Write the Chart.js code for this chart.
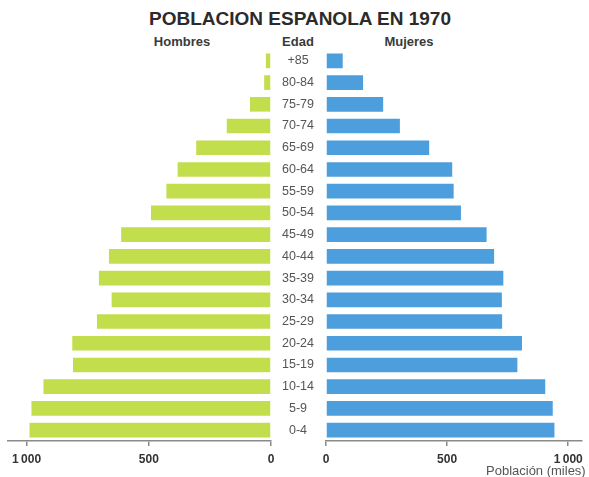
<!DOCTYPE html>
<html>
<head>
<meta charset="utf-8">
<title>Poblacion espanola en 1970</title>
<script src="https://cdn.jsdelivr.net/npm/chart.js@4.4.1/dist/chart.umd.min.js"></script>
<style>
  body { margin: 0; background: #fff; font-family: "Liberation Sans", Arial, sans-serif; }
  #page { position: relative; width: 589px; height: 477px; overflow: hidden; background: #fff; }
  .txt { position: absolute; white-space: nowrap; transform: translateX(-50%); }
  #titulo { left: 300px; top: 8px; font-size: 19px; font-weight: bold; color: #2b2b2b; line-height: 22px; }
  .cab { top: 34px; font-size: 13px; font-weight: bold; color: #3a3a3a; line-height: 16px; }
  #pie { position: absolute; left: 486px; top: 463px; font-size: 13px; color: #555; line-height: 15px; white-space: nowrap; }
  canvas { position: absolute; top: 0; }
</style>
</head>
<body>
<div id="page">
  <div id="titulo" class="txt">POBLACION ESPANOLA EN 1970</div>
  <div class="txt cab" style="left:182px">Hombres</div>
  <div class="txt cab" style="left:298px">Edad</div>
  <div class="txt cab" style="left:409px">Mujeres</div>
  <canvas id="hombresChart" width="290" height="477" style="left:0"></canvas>
  <canvas id="mujeresChart" width="317" height="477" style="left:272px"></canvas>
  <div id="pie">Población (miles)</div>
</div>
<script>
// grupos de edad, de arriba abajo
const edades = ['+85', '80-84', '75-79', '70-74', '65-69', '60-64', '55-59', '50-54', '45-49',
  '40-44', '35-39', '30-34', '25-29', '20-24', '15-19', '10-14', '5-9', '0-4'];
// miles de personas
const hombres = [21, 28, 86, 181, 306, 382, 428, 491, 613, 663, 704, 652, 712, 813, 810, 931, 980, 988];
const mujeres = [69, 153, 236, 305, 426, 521, 527, 557, 663, 694, 732, 726, 727, 809, 790, 905, 936, 943];
const ticksX = [0, 500, 1000];

const verde = '#c2de4c';
const azul = '#4d9edd';

function fmtMiles(v) {
  return v >= 1000 ? String(v).replace(/(\d)(\d{3})$/, '$1\u2009$2') : String(v);
}

function ejeX(max, reverse) {
  return {
    type: 'linear',
    min: 0,
    max: max,
    reverse: reverse,
    afterBuildTicks: s => { s.ticks = ticksX.map(v => ({ value: v })); },
    afterFit: s => { s.height = 36; },
    grid: { drawOnChartArea: false, drawTicks: true, tickLength: 5, color: '#8a8a8a', lineWidth: 1.5 },
    border: { display: true, color: '#8a8a8a', width: 1.5 },
    ticks: {
      color: '#333',
      padding: 6,
      maxRotation: 0,
      font: { family: '"Liberation Sans", Arial, sans-serif', size: 12, weight: 'bold' },
      callback: v => fmtMiles(v)
    }
  };
}

const barra = {
  barPercentage: 0.9,
  categoryPercentage: 0.75,
  borderWidth: 0
};

// piramide: lado izquierdo (hombres)
const hombresChart = new Chart(document.getElementById('hombresChart'), {
  type: 'bar',
  data: {
    labels: edades,
    datasets: [Object.assign({ label: 'Hombres', data: hombres, backgroundColor: verde }, barra)]
  },
  options: {
    indexAxis: 'y',
    responsive: false,
    animation: false,
    layout: { autoPadding: false, padding: { left: 8, right: 19, top: 50, bottom: 0 } },
    plugins: { legend: { display: false }, tooltip: { enabled: false } },
    scales: {
      x: ejeX(1076, true),
      y: { display: false }
    }
  }
});

// lado derecho (mujeres) con las edades en el centro
const mujeresChart = new Chart(document.getElementById('mujeresChart'), {
  type: 'bar',
  data: {
    labels: edades,
    datasets: [Object.assign({ label: 'Mujeres', data: mujeres, backgroundColor: azul }, barra)]
  },
  options: {
    indexAxis: 'y',
    responsive: false,
    animation: false,
    layout: { autoPadding: false, padding: { left: 0, right: 4, top: 50, bottom: 0 } },
    plugins: { legend: { display: false }, tooltip: { enabled: false } },
    scales: {
      x: ejeX(1054, false),
      y: {
        afterFit: s => { s.width = 54; },
        grid: { display: false, drawTicks: false },
        border: { display: false },
        ticks: {
          color: '#555',
          padding: 12,
          crossAlign: 'center',
          font: { family: '"Liberation Sans", Arial, sans-serif', size: 12.5 }
        }
      }
    }
  }
});
</script>
</body>
</html>
